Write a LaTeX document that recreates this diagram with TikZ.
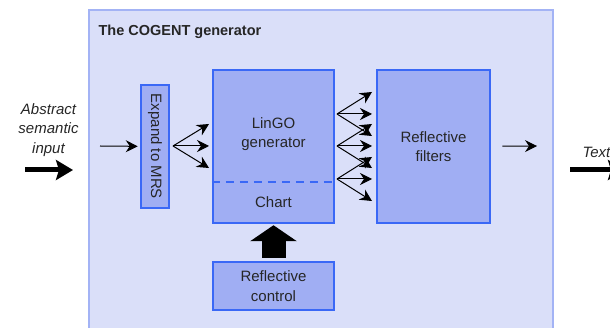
\documentclass[tikz,border=0pt]{standalone}
\usepackage{fontspec}
\setmainfont{Liberation Sans}
\usetikzlibrary{arrows.meta,positioning}
\definecolor{cOuter}{HTML}{DADFF9}
\definecolor{cOuterLine}{HTML}{A3B3F5}
\definecolor{cBox}{HTML}{A0AEF3}
\definecolor{cBoxLine}{HTML}{3A68F6}

\begin{document}
\begin{tikzpicture}[x=1pt, y=-1pt,
  every node/.style={font=\fontsize{15}{19.5}\selectfont, text=black!85},
  blk/.style={draw=cBoxLine, fill=cBox, line width=2.5pt, inner sep=0pt, align=center},
  flow/.style={-{Stealth[length=12pt,width=12pt,inset=4pt]}, line width=1pt},
  bigflow/.style={-{Stealth[length=17pt,width=20pt,inset=3pt]}, line width=5pt},
]

\useasboundingbox (0,0) rectangle (610,328);
\clip (0,0) rectangle (610,328);

\node[draw=cOuterLine, fill=cOuter, line width=2pt, minimum width=464pt, minimum height=340pt] (cogent) at (321,180) {};
\node[anchor=west, font=\fontsize{14.5}{17}\bfseries] (title) at (95,32) {The COGENT generator};

\node[blk, rotate=-90, minimum width=123pt, minimum height=28pt] (expand) at (155,146.5) {Expand to MRS};
\node[blk, minimum width=121pt, minimum height=153pt] (lingo) at (273.5,146.5) {};
\node[align=center] (lingolbl) at (273.5,134) {LinGO\\generator};
\node (chart) at (273.5,202) {Chart};
\draw[cBoxLine, line width=2.5pt, dash pattern=on 8pt off 6pt] (lingo.west |- 0,182) -- (lingo.east |- 0,182);
\node[blk, minimum width=113pt, minimum height=153pt] (filters) at (433.5,146.5) {Reflective\\filters};
\node[blk, minimum width=121pt, minimum height=48pt] (control) at (273.5,286) {Reflective\\control};

\draw[-{Triangle[length=16pt,width=46pt]}, line width=24pt, shorten <=3pt, shorten >=1pt] (control.north) -- (lingo.south);

\node[align=center, font=\fontsize{15}{19.5}\itshape] (input) at (48.5,130) {Abstract\\semantic\\input};
\coordinate (inA) at (25,170);
\coordinate (inB) at (73,170);
\draw[bigflow] (inA) -- (inB);
\coordinate (inpt) at (100,146);
\draw[flow, shorten >=2pt] (inpt) -- (expand);

\coordinate (e0) at (173,146);
\foreach \dy in {-22,0,22}
  \draw[flow] (e0) -- (209,146+\dy);

\foreach \oy in {114,146,179}
  \foreach \dy in {-22,0,22}
    \draw[flow] (337,\oy) -- (372,\oy+\dy);

\coordinate (outtip) at (537,146);
\draw[flow, shorten <=11pt] (filters) -- (outtip);

\node[anchor=west, font=\fontsize{15}{19.5}\itshape] (output) at (579,152) {Text};
\coordinate (outA) at (570,170);
\coordinate (outB) at (625,170);
\draw[bigflow] (outA) -- (outB);

\end{tikzpicture}
\end{document}
